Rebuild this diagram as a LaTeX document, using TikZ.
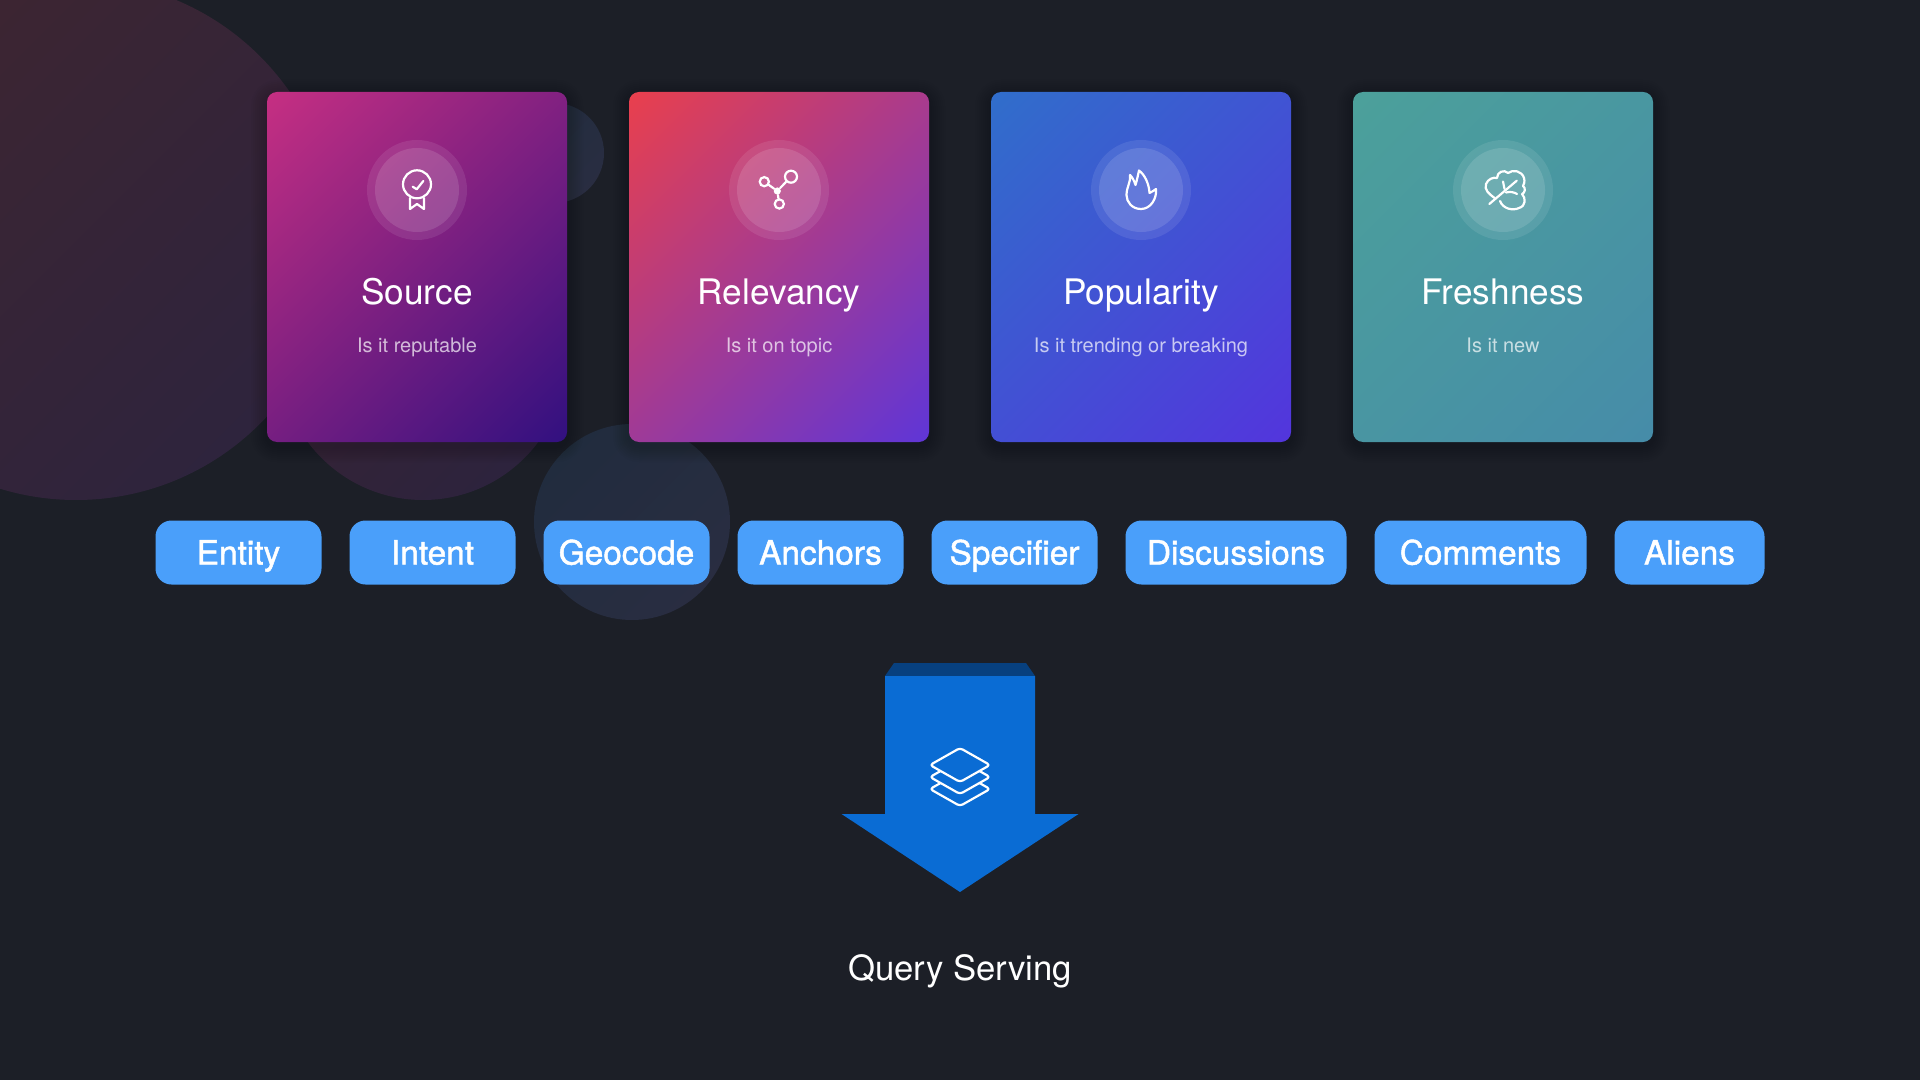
\documentclass[tikz,border=0pt]{standalone}
\usepackage{xcolor}
\usepackage{fontspec}
\setmainfont{TeX Gyre Heros}
\newfontfamily\chipfont[FakeBold=1.4]{TeX Gyre Heros}
\definecolor{bgdark}{HTML}{1C1F27}
\definecolor{chipblue}{HTML}{4A9FFA}
\definecolor{arrowblue}{HTML}{0A6CD4}
\definecolor{arrowdark}{HTML}{07407F}
\definecolor{blobred}{HTML}{41262E}
\definecolor{blobwine}{HTML}{3A242F}
\definecolor{blobplum}{HTML}{2A2340}
\definecolor{blobteal}{HTML}{1F2C3D}
\definecolor{blobslate}{HTML}{2B2D42}
\definecolor{sourcetop}{HTML}{CB3082}
\definecolor{sourcelow}{HTML}{2C0F80}
\definecolor{relevancytop}{HTML}{EE4048}
\definecolor{relevancylow}{HTML}{5A35DC}
\definecolor{popularitytop}{HTML}{2F70CA}
\definecolor{popularitylow}{HTML}{5433DD}
\definecolor{freshnesstop}{HTML}{4CA19A}
\definecolor{freshnesslow}{HTML}{468BA9}
\newcommand{\declarefade}[3]{\pgfdeclareverticalshading{#1}{100bp}{color(0bp)=(#3); color(12bp)=(#3); color(88bp)=(#2); color(100bp)=(#2)}}
\declarefade{bigblob}{blobred}{blobplum}
\declarefade{midblob}{blobwine}{blobplum}
\declarefade{coolblob}{blobteal}{blobslate}
\declarefade{sourcefade}{sourcetop}{sourcelow}
\declarefade{relevancyfade}{relevancytop}{relevancylow}
\declarefade{popularityfade}{popularitytop}{popularitylow}
\declarefade{freshnessfade}{freshnesstop}{freshnesslow}

\begin{document}
\begin{tikzpicture}[
    x=0.5pt, y=-0.5pt,
    blob/.style={shading=#1, shading angle=45},
    card/.style={rectangle, rounded corners=5pt, minimum width=150pt, minimum height=175pt, inner sep=0pt,
        shade, shading=#1, shading angle=45},
    halo/.style={circle, fill=white, fill opacity=0.09, minimum size=50pt, inner sep=0pt},
    disc/.style={circle, fill=white, fill opacity=0.12, minimum size=42pt, inner sep=0pt},
    title/.style={anchor=base, text=white, font=\fontsize{17.6}{20}\selectfont},
    subtitle/.style={anchor=base, text=white, text opacity=0.7, font=\fontsize{10}{12}\selectfont},
    chip/.style={rectangle, rounded corners=8pt, fill=chipblue, text=white, minimum height=32pt, inner sep=0pt,
        text height=12pt, text depth=0pt, font=\chipfont\fontsize{16.7}{18}\selectfont},
    icon/.style={draw=white, line width=1.1pt, line cap=round, line join=round},
    ring/.style={circle, draw=white, line width=1.1pt, inner sep=0pt, minimum size=#1}
]

% Canvas
\useasboundingbox (0,0) rectangle (1920,1080);
\clip (0,0) rectangle (1920,1080);
\fill[bgdark] (0,0) rectangle (1920,1080);

% Background circles
\shade[blob=bigblob] (76,240) circle [radius=260];
\shade[blob=midblob] (423,356.5) circle [radius=143.5];
\shade[blob=coolblob] (554,153) circle [radius=50];
\shade[blob=coolblob] (632,522) circle [radius=98];

% Card shadows
\foreach \cx in {417,779,1141,1503}
    \foreach \grow in {2,4,...,16}
        \fill[black, fill opacity=0.02, rounded corners=5pt+\grow*0.5pt]
            (\cx-150-\grow,92-\grow+4) rectangle (\cx+150+\grow,442+\grow+4);

% Cards
\node[card=sourcefade] (source) at (417,267) {};
\node[card=relevancyfade] (relevancy) at (779,267) {};
\node[card=popularityfade] (popularity) at (1141,267) {};
\node[card=freshnessfade] (freshness) at (1503,267) {};

% Icon backgrounds
\node[halo] (halo1) at (417,190) {};
\node[disc] (disc1) at (417,190) {};
\node[halo] (halo2) at (779,190) {};
\node[disc] (disc2) at (779,190) {};
\node[halo] (halo3) at (1141,190) {};
\node[disc] (disc3) at (1141,190) {};
\node[halo] (halo4) at (1503,190) {};
\node[disc] (disc4) at (1503,190) {};

% Badge icon
\begin{scope}[shift={(417,190)}]
\draw[icon] (0,-5.7) circle [radius=14];
\draw[icon] (-7,8) -- (-7,19) -- (0,14) -- (7,19) -- (7,8);
\draw[icon] (-4.3,-3.3) -- (-0.3,-0.7) -- (6.3,-9);
\end{scope}

% Graph icon
\begin{scope}[shift={(779,190)}]
\node[circle, fill=white, minimum size=3.6pt, inner sep=0pt] (hub) at (-1.7,1) {};
\node[ring=6pt] (big) at (12,-13.3) {};
\node[ring=4.6pt] (lefty) at (-14.7,-8.3) {};
\node[ring=4.6pt] (lower) at (0.3,14) {};
\draw[icon] (hub) -- (big);
\draw[icon] (hub) -- (lefty);
\draw[icon] (hub) -- (lower);
\end{scope}

% Flame icon
\begin{scope}[shift={(1141,190)}]
\draw[icon] (0,19) .. controls (-9,19) and (-14.5,12) .. (-14.5,5)
    .. controls (-14.5,-3) and (-10,-8) .. (-11,-15)
    .. controls (-9,-13) and (-7,-10) .. (-5.5,-5)
    .. controls (-4,-10) and (-3,-15) .. (-2,-19.5)
    .. controls (4,-15) and (8,-6) .. (8.5,3)
    .. controls (11,2) and (13.5,0) .. (15,-1)
    .. controls (16,8) and (10,19) .. cycle;
\end{scope}

% Leaf icon
\begin{scope}[shift={(1503,190)}]
\draw[icon] (-8,8.3) .. controls (-14,4) and (-19,0) .. (-17,-6)
    .. controls (-15,-11) and (-10,-13) .. (-6,-12)
    .. controls (-6,-18) and (1,-21) .. (5,-17)
    .. controls (10,-21) and (19,-19) .. (21,-12)
    .. controls (22,-8) and (21,-6) .. (20,-4)
    .. controls (23,-2) and (22,3) .. (19,4)
    .. controls (23,8) and (23,16) .. (16,18)
    .. controls (10,21) and (0,19) .. (-3,11);
\draw[icon] (-13.7,14) -- (13.7,-9.3);
\draw[icon] (0,-8.5) -- (1.5,-1);
\draw[icon] (3,2.5) .. controls (7,1.5) and (11,2) .. (14,4);
\end{scope}

% Card labels
\node[title] (source title) at (417,305) {Source};
\node[subtitle] (source text) at (417,352.5) {Is it reputable};
\node[title] (relevancy title) at (779,305) {Relevancy};
\node[subtitle] (relevancy text) at (779,352.5) {Is it on topic};
\node[title] (popularity title) at (1141,305) {Popularity};
\node[subtitle] (popularity text) at (1141,352.5) {Is it trending or breaking};
\node[title] (freshness title) at (1503,305) {Freshness};
\node[subtitle] (freshness text) at (1503,352.5) {Is it new};

% Signal chips
\node[chip, minimum width=83pt] (entity) at (238.5,552.5) {Entity};
\node[chip, minimum width=83pt] (intent) at (432.5,552.5) {Intent};
\node[chip, minimum width=83pt] (geocode) at (626.5,552.5) {Geocode};
\node[chip, minimum width=83pt] (anchors) at (820.5,552.5) {Anchors};
\node[chip, minimum width=83pt] (specifier) at (1014.5,552.5) {Specifier};
\node[chip, minimum width=110.5pt] (discussions) at (1236,552.5) {Discussions};
\node[chip, minimum width=106pt] (comments) at (1480.5,552.5) {Comments};
\node[chip, minimum width=75pt] (aliens) at (1689.5,552.5) {Aliens};

% Down arrow
\fill[arrowdark] (885,676) -- (894,663) -- (1026,663) -- (1035,676) -- cycle;
\fill[arrowblue] (885,676) -- (1035,676) -- (1035,814) -- (1078.5,814) -- (960,892) -- (841.5,814) -- (885,814) -- cycle;

% Stack icon
\foreach \y in {24,12,0}
    \draw[icon, fill=arrowblue, rounded corners=1.5pt, yshift=-\y*0.5pt] (930,765) -- (960,748) -- (990,765) -- (960,782) -- cycle;

% Caption
\node[title, font=\fontsize{17.35}{20}\selectfont] (serving) at (960,980) {Query Serving};

\end{tikzpicture}
\end{document}
